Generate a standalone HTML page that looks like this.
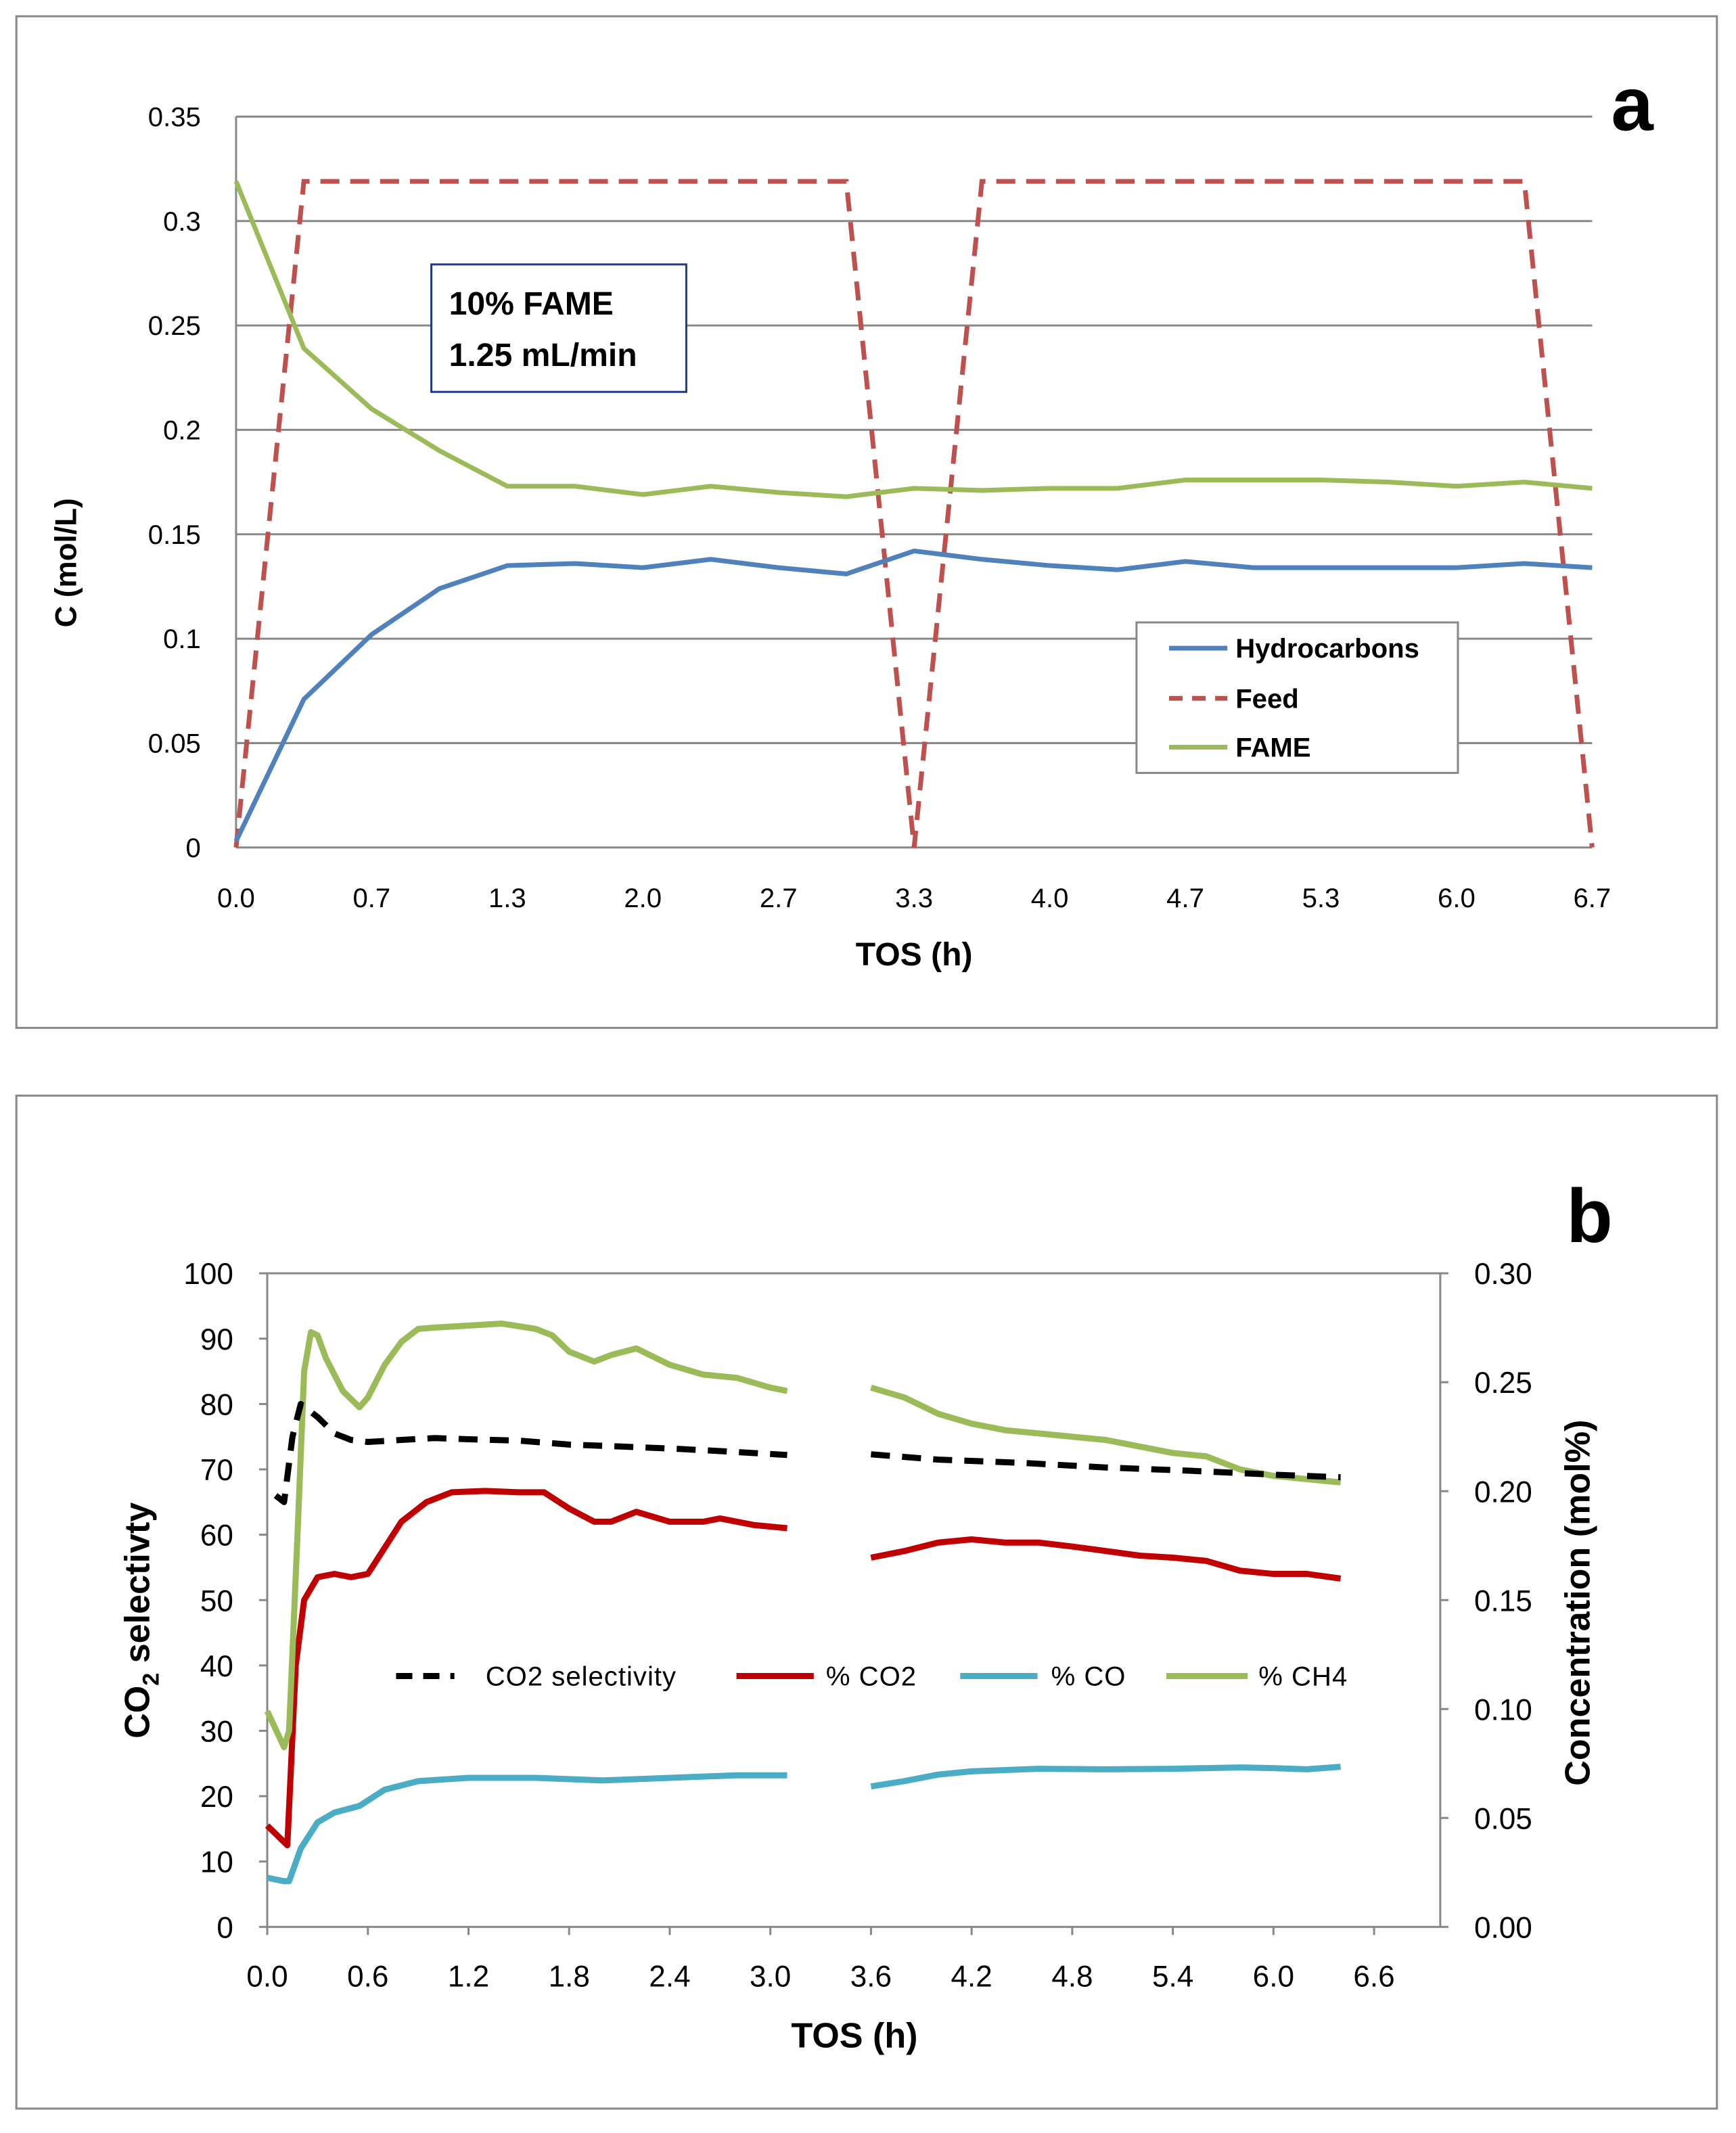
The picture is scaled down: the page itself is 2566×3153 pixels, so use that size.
<!DOCTYPE html>
<html><head><meta charset="utf-8"><style>
html,body{margin:0;padding:0;background:#fff;}
svg{display:block;font-family:"Liberation Sans",sans-serif;}
</style></head><body>
<svg id="chart" width="2566" height="3153" viewBox="0 0 1280 1573" xmlns="http://www.w3.org/2000/svg">
<rect x="12" y="12" width="1254" height="746" fill="#fff" stroke="#888" stroke-width="1.5"/>
<rect x="12" y="808" width="1254" height="747" fill="#fff" stroke="#888" stroke-width="1.5"/>
<g id="ga"></g>
<g id="gb"></g>
<text x="1188" y="96" font-size="56" font-weight="bold">a</text>
<text x="1155" y="916" font-size="56" font-weight="bold">b</text>
<rect x="318" y="195" width="188" height="94" fill="#fff" stroke="#1f3c88" stroke-width="1.5"/>
<text x="331" y="232" font-size="24" font-weight="bold">10% FAME</text>
<text x="331" y="270" font-size="24" font-weight="bold">1.25 mL/min</text>
<text x="674" y="712" font-size="24" font-weight="bold" text-anchor="middle">TOS (h)</text>
<text transform="translate(56,415) rotate(-90)" font-size="22" font-weight="bold" text-anchor="middle">C (mol/L)</text>
<text x="630" y="1510" font-size="26" font-weight="bold" text-anchor="middle">TOS (h)</text>
<text transform="translate(110,1195) rotate(-90)" font-size="26" font-weight="bold" text-anchor="middle">CO<tspan font-size="17" dy="7">2</tspan><tspan dy="-7"> selectivty</tspan></text>
<text transform="translate(1172,1182) rotate(-90)" font-size="26" font-weight="bold" text-anchor="middle">Concentration (mol%)</text>
</svg>
<script>
const NS="http://www.w3.org/2000/svg";
// ---- Panel a data ----
const aTickLabels=["0.0","0.7","1.3","2.0","2.7","3.3","4.0","4.7","5.3","6.0","6.7"];
const aYTicks=[0,0.05,0.1,0.15,0.2,0.25,0.3,0.35];
const aYLabels=["0","0.05","0.1","0.15","0.2","0.25","0.3","0.35"];
const hydrocarbons=[0.003,0.071,0.102,0.124,0.135,0.136,0.134,0.138,0.134,0.131,0.142,0.138,0.135,0.133,0.137,0.134,0.134,0.134,0.134,0.136,0.134];
const feed=[0,0.319,0.319,0.319,0.319,0.319,0.319,0.319,0.319,0.319,0,0.319,0.319,0.319,0.319,0.319,0.319,0.319,0.319,0.319,0];
const fame=[0.319,0.239,0.21,0.19,0.173,0.173,0.169,0.173,0.17,0.168,0.172,0.171,0.172,0.172,0.176,0.176,0.176,0.175,0.173,0.175,0.172];
// ---- Panel b data ----
const bXTicks=[0,0.6,1.2,1.8,2.4,3.0,3.6,4.2,4.8,5.4,6.0,6.6];
const bXLabels=["0.0","0.6","1.2","1.8","2.4","3.0","3.6","4.2","4.8","5.4","6.0","6.6"];
const bLeftTicks=[0,10,20,30,40,50,60,70,80,90,100];
const bRightTicks=[0,0.05,0.1,0.15,0.2,0.25,0.3];
const bRightLabels=["0.00","0.05","0.10","0.15","0.20","0.25","0.30"];
const selT=[0.05,0.1,0.15,0.2,0.3,0.4,0.5,0.6,0.8,1.0,1.2,1.5,1.8,2.1,2.4,2.7,3.1,null,3.6,4.0,4.5,5.0,5.5,6.0,6.4];
const selV=[66,65,75,80,78,75.5,74.5,74.2,74.5,74.8,74.6,74.4,73.8,73.5,73.2,72.8,72.2,null,72.3,71.5,71,70.3,69.8,69.2,68.8];
const co2T=[0,0.12,0.17,0.22,0.3,0.4,0.5,0.6,0.7,0.8,0.95,1.1,1.3,1.5,1.65,1.8,1.95,2.05,2.2,2.4,2.6,2.7,2.9,3.1,null,3.6,3.8,4.0,4.2,4.4,4.6,4.8,5.0,5.2,5.4,5.6,5.8,6.0,6.2,6.4];
const co2V=[0.0465,0.0375,0.12,0.15,0.1605,0.162,0.1605,0.162,0.174,0.186,0.195,0.1995,0.2001,0.1995,0.1995,0.192,0.186,0.186,0.1905,0.186,0.186,0.1875,0.1845,0.183,null,0.1695,0.1725,0.1764,0.1779,0.1764,0.1764,0.1746,0.1725,0.1704,0.1695,0.168,0.1635,0.162,0.162,0.1599];
const ch4T=[0,0.1,0.13,0.18,0.22,0.26,0.3,0.35,0.45,0.55,0.6,0.7,0.8,0.9,1.0,1.2,1.4,1.6,1.7,1.8,1.95,2.05,2.2,2.4,2.6,2.8,3.0,3.1,null,3.6,3.8,4.0,4.2,4.4,4.6,4.8,5.0,5.2,5.4,5.6,5.8,6.0,6.2,6.4];
const ch4V=[0.099,0.0825,0.09,0.18,0.255,0.273,0.2715,0.261,0.246,0.2385,0.243,0.258,0.2685,0.2745,0.2751,0.276,0.2769,0.2745,0.2715,0.264,0.2595,0.2625,0.2655,0.258,0.2535,0.252,0.2475,0.246,null,0.2475,0.243,0.2355,0.231,0.228,0.2265,0.225,0.2235,0.2205,0.2175,0.216,0.21,0.207,0.2055,0.204];
const coT=[0,0.1,0.13,0.2,0.3,0.4,0.55,0.7,0.9,1.2,1.6,2.0,2.4,2.8,3.1,null,3.6,3.8,4.0,4.2,4.6,5.0,5.4,5.8,6.0,6.2,6.4];
const coV=[0.0225,0.021,0.021,0.036,0.048,0.0525,0.0555,0.063,0.0669,0.0684,0.0684,0.0672,0.0684,0.0696,0.0696,null,0.0645,0.0669,0.0699,0.0714,0.0726,0.0723,0.0726,0.0732,0.0729,0.0723,0.0735];

function el(tag,attrs,parent,text){const e=document.createElementNS(NS,tag);for(const k in attrs)e.setAttribute(k,attrs[k]);if(text!==undefined)e.textContent=text;parent.appendChild(e);return e;}
const ga=document.getElementById('ga'), gb=document.getElementById('gb');
// Panel a axes
const ax=i=>174+i*50, ay=v=>625-v*1540;
aYTicks.forEach((v,i)=>{
  const g=el('line',{x1:174,x2:1174,y1:ay(v),y2:ay(v),stroke:'#888','stroke-width':1.5},ga);
  
  
  const t=el('text',{x:148,y:ay(v)+7,'font-size':20,'text-anchor':'end'},ga,aYLabels[i]);
  
  
});
const aAxis=el('line',{x1:174,x2:174,y1:86,y2:625,stroke:'#888','stroke-width':1.5},ga);


aTickLabels.forEach((s,i)=>{
  const t=el('text',{x:ax(i*2),y:669,'font-size':20,'text-anchor':'middle'},ga,s);
  
  
});
function polyA(arr,color,dash,name){
  const p=el('polyline',{points:arr.map((v,i)=>ax(i)+','+ay(v)).join(' '),fill:'none',stroke:color,'stroke-width':3.5,'stroke-dasharray':dash||'none'},ga);
  
  
}
polyA(feed,'#c0504d','14,8','series-feed');
polyA(fame,'#9bbb59',null,'series-fame');
polyA(hydrocarbons,'#4f81bd',null,'series-hydrocarbons');
// legend a
const lb=el('rect',{x:838,y:459,width:237,height:111,fill:'#fff',stroke:'#888','stroke-width':1.5},ga);


[['Hydrocarbons','#4f81bd',null,478],['Feed','#c0504d','10,7',515],['FAME','#9bbb59',null,551]].forEach(d=>{
  const l=el('line',{x1:862,x2:905,y1:d[3],y2:d[3],stroke:d[1],'stroke-width':3.5,'stroke-dasharray':d[2]||'none'},ga);
  
  
  const t=el('text',{x:911,y:d[3]+7,'font-size':20,'font-weight':'bold'},ga,d[0]);
  
  
});
// Panel b axes
const bx=t=>197+t/0.6*74.2, byL=v=>1421-v*4.82, byR=v=>1421-v/0.3*482;
const frame=el('rect',{x:197,y:939,width:865,height:482,fill:'none',stroke:'#888','stroke-width':1.5},gb);


bLeftTicks.forEach(v=>{
  el('line',{x1:191,x2:197,y1:byL(v),y2:byL(v),stroke:'#888','stroke-width':1.5},gb);
  const t=el('text',{x:172,y:byL(v)+8,'font-size':22,'text-anchor':'end'},gb,String(v));
  
  
});
bRightTicks.forEach((v,i)=>{
  el('line',{x1:1062,x2:1068,y1:byR(v),y2:byR(v),stroke:'#888','stroke-width':1.5},gb);
  const t=el('text',{x:1087,y:byR(v)+8,'font-size':22},gb,bRightLabels[i]);
  
  
});
bXTicks.forEach((v,i)=>{
  el('line',{x1:bx(v),x2:bx(v),y1:1421,y2:1427,stroke:'#888','stroke-width':1.5},gb);
  const t=el('text',{x:bx(v),y:1465,'font-size':22,'text-anchor':'middle'},gb,bXLabels[i]);
  
  
});
function pathB(T,V,yf,color,dash,name){
  let d='',pen=false;
  T.forEach((t,i)=>{ if(t===null||V[i]===null){pen=false;return;} d+=(pen?'L':'M')+bx(t).toFixed(1)+','+yf(V[i]).toFixed(1)+' '; pen=true;});
  const p=el('path',{d:d,fill:'none',stroke:color,'stroke-width':4.5,'stroke-dasharray':dash||'none','stroke-linejoin':'round'},gb);
  
  
}
pathB(coT,coV,byR,'#4bacc6',null,'series-co');
pathB(co2T,co2V,byR,'#c00000',null,'series-co2');
pathB(ch4T,ch4V,byR,'#9bbb59',null,'series-ch4');
pathB(selT,selV,byL,'#000','14,9','series-co2-selectivity');
[['CO2 selectivity','#000','12,8',292,335,358],['% CO2','#c00000',null,543,600,609],['% CO','#4bacc6',null,708,765,775],['% CH4','#9bbb59',null,860,920,928]].forEach(d=>{
  const l=el('line',{x1:d[3],x2:d[4],y1:1236,y2:1236,stroke:d[1],'stroke-width':4.5,'stroke-dasharray':d[2]||'none'},gb);
  
  
  const t=el('text',{x:d[5],y:1243,'font-size':20,'letter-spacing':'0.5'},gb,d[0]);
  
  
});
</script>
</body></html>
